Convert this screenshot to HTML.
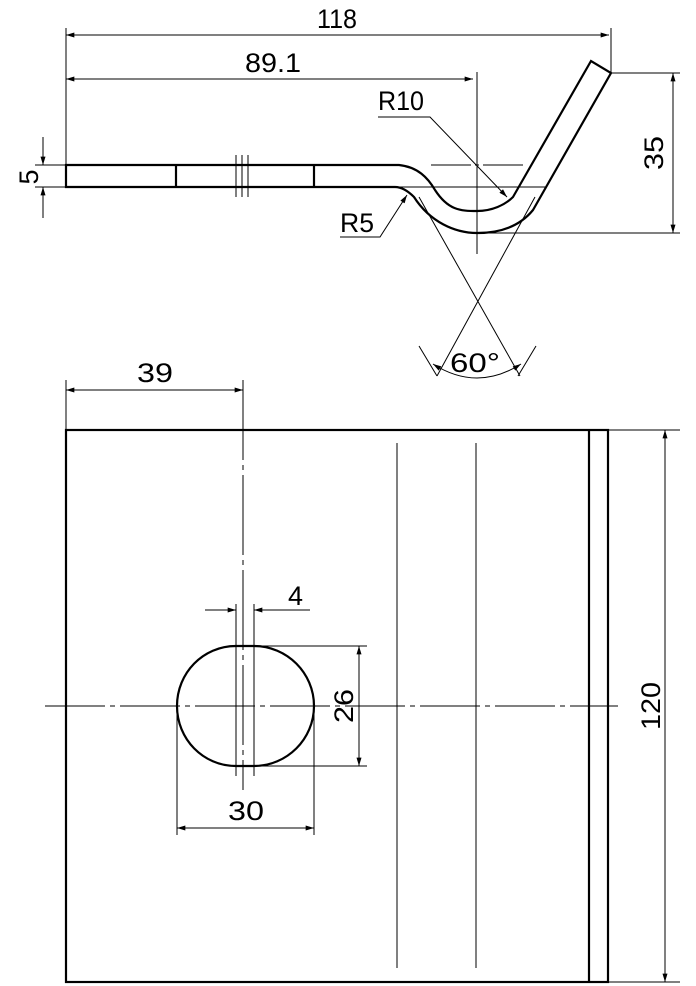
<!DOCTYPE html>
<html><head><meta charset="utf-8"><style>html,body{margin:0;padding:0;background:#fff}svg{display:block}text{font-family:"Liberation Sans",sans-serif;font-size:27px;fill:#000}</style></head><body>
<svg width="696" height="986" viewBox="0 0 696 986" xmlns="http://www.w3.org/2000/svg">
<defs>
<marker id="a" viewBox="0 0 10 6" refX="10" refY="3" markerWidth="14" markerHeight="5" markerUnits="userSpaceOnUse" orient="auto-start-reverse"><path d="M0,0L10,3L0,6z" fill="#000"/></marker>
</defs>
<g stroke="#000" fill="none" stroke-width="1">
<line x1="66" y1="28" x2="66" y2="165"/>
<line x1="611" y1="28" x2="611" y2="73"/>
<line x1="66" y1="35" x2="609" y2="35" marker-start="url(#a)" marker-end="url(#a)"/>
<line x1="66" y1="79" x2="473" y2="79" marker-start="url(#a)" marker-end="url(#a)"/>
<line x1="477" y1="72" x2="477" y2="254"/>
<g stroke-width="2.2">
<path d="M66,165 L399,165 C418,167 428,178 435,190 C448,210 460,211 477,211 C492,211 505,205 513,197 L591,61 L611,73 L533,210 C520,226 500,233 477,233 C455,233 430,222 414,197 C406,189 400,187 395,187 L66,187 Z"/>
<line x1="176" y1="165" x2="176" y2="187"/>
<line x1="314" y1="165" x2="314" y2="187"/>
</g>
<line x1="236" y1="155" x2="236" y2="197"/>
<line x1="242" y1="155" x2="242" y2="197"/>
<line x1="248" y1="155" x2="248" y2="197"/>
<line x1="395" y1="187" x2="545" y2="187"/>
<line x1="431" y1="165" x2="525" y2="165" stroke-dasharray="40,4,4,4"/>
<line x1="611" y1="73" x2="680" y2="73"/>
<line x1="477" y1="233" x2="680" y2="233"/>
<line x1="673" y1="73" x2="673" y2="233" marker-start="url(#a)" marker-end="url(#a)"/>
<line x1="35" y1="165" x2="66" y2="165"/>
<line x1="35" y1="187" x2="66" y2="187"/>
<line x1="43" y1="137" x2="43" y2="165" marker-end="url(#a)"/>
<line x1="43" y1="218" x2="43" y2="187" marker-end="url(#a)"/>
<polyline points="378,117 430,117 507,197" marker-end="url(#a)"/>
<polyline points="340,237 380,237 407,195" marker-end="url(#a)"/>
<line x1="419" y1="197" x2="520" y2="376"/>
<line x1="535" y1="197" x2="437" y2="376"/>
<path d="M419,346 L437,376"/><path d="M536,346 L518,376"/>
<path d="M433,364 Q477,392 521,364" marker-start="url(#a)" marker-end="url(#a)"/>
<g stroke-width="2.2">
<rect x="66" y="430" width="542" height="552"/>
<line x1="589" y1="430" x2="589" y2="982"/>
<path d="M236,646 L254,646 C287,646 314,673 314,706 C314,739 287,766 254,766 L236,766 C203,766 177,739 177,706 C177,673 203,646 236,646 Z"/>
</g>
<line x1="397" y1="443" x2="397" y2="968"/>
<line x1="476" y1="443" x2="476" y2="968"/>
<line x1="45" y1="706" x2="618" y2="706" stroke-dasharray="60,5,5,5"/>
<line x1="243" y1="380" x2="243" y2="790" stroke-dasharray="80,5,5,5"/>
<line x1="236" y1="604" x2="236" y2="776"/>
<line x1="254" y1="604" x2="254" y2="776"/>
<line x1="66" y1="380" x2="66" y2="430"/>
<line x1="66" y1="390" x2="243" y2="390" marker-start="url(#a)" marker-end="url(#a)"/>
<line x1="205" y1="610" x2="236" y2="610" marker-end="url(#a)"/>
<line x1="310" y1="610" x2="254" y2="610" marker-end="url(#a)"/>
<line x1="254" y1="646" x2="367" y2="646"/>
<line x1="254" y1="766" x2="367" y2="766"/>
<line x1="359" y1="646" x2="359" y2="766" marker-start="url(#a)" marker-end="url(#a)"/>
<line x1="177" y1="706" x2="177" y2="835"/>
<line x1="314" y1="706" x2="314" y2="835"/>
<line x1="177" y1="828" x2="314" y2="828" marker-start="url(#a)" marker-end="url(#a)"/>
<line x1="608" y1="430" x2="680" y2="430"/>
<line x1="608" y1="982" x2="680" y2="982"/>
<line x1="665" y1="430" x2="665" y2="982" marker-start="url(#a)" marker-end="url(#a)"/>
</g>
<text x="317" y="28" textLength="40" lengthAdjust="spacingAndGlyphs">118</text>
<text x="245" y="72" textLength="56" lengthAdjust="spacingAndGlyphs">89.1</text>
<text x="378" y="110" textLength="46" lengthAdjust="spacingAndGlyphs">R10</text>
<text x="340" y="232" textLength="34" lengthAdjust="spacingAndGlyphs">R5</text>
<text x="450" y="372" textLength="50" lengthAdjust="spacingAndGlyphs">60°</text>
<text transform="translate(38,177) rotate(-90)" text-anchor="middle">5</text>
<text transform="translate(663,153) rotate(-90)" text-anchor="middle" textLength="34" lengthAdjust="spacingAndGlyphs">35</text>
<text x="137" y="382" textLength="36" lengthAdjust="spacingAndGlyphs">39</text>
<text x="288" y="605">4</text>
<text transform="translate(353,706) rotate(-90)" text-anchor="middle" textLength="34" lengthAdjust="spacingAndGlyphs">26</text>
<text x="228" y="820" textLength="36" lengthAdjust="spacingAndGlyphs">30</text>
<text transform="translate(660,706) rotate(-90)" text-anchor="middle" textLength="48" lengthAdjust="spacingAndGlyphs">120</text>
</svg>
</body></html>
